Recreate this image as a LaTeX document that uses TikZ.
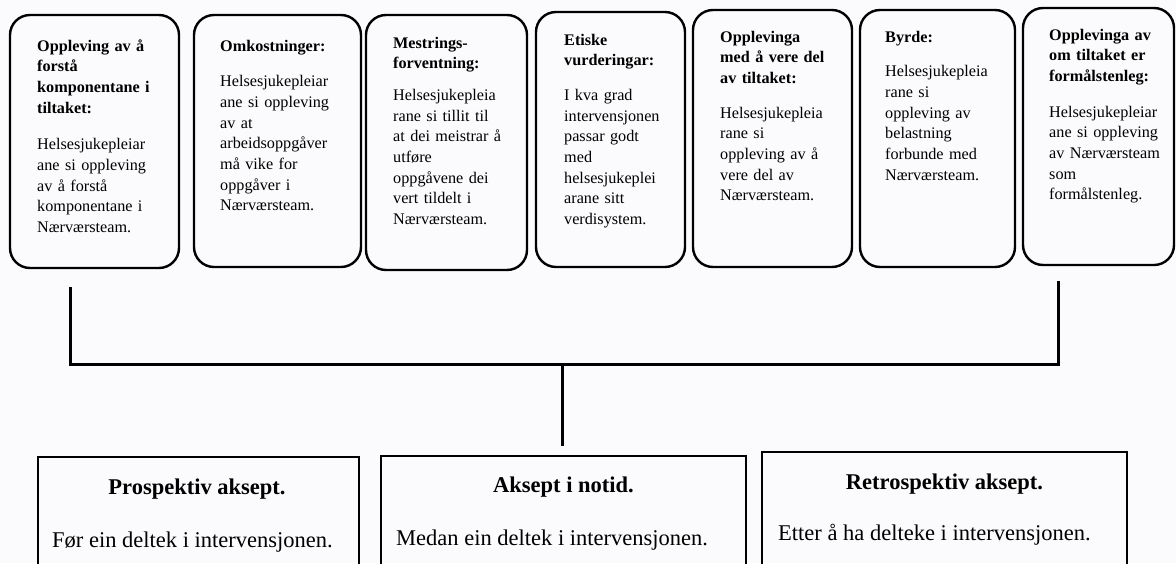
\documentclass[tikz,border=0pt]{standalone}
\usepackage{fontspec}
\setmainfont{Liberation Serif}
\begin{document}
\begin{tikzpicture}[x=1pt,y=-1pt,
  rbox/.style={draw, line width=2.4pt, rounded corners=20pt, inner sep=0pt},
  sbox/.style={draw, line width=1.4pt, inner sep=0pt},
  toptext/.style={anchor=base west, inner sep=0pt, text width=140pt, align=left,
    font=\fontsize{16.2}{20.7}\selectfont},
  bottitle/.style={anchor=base, inner sep=0pt, font=\fontsize{22.5}{27}\selectfont\bfseries},
  botbody/.style={anchor=base west, inner sep=0pt, font=\fontsize{22.5}{27}\selectfont},
  conn/.style={line width=3pt}]
\useasboundingbox (0,0) rectangle (1176,563);
\clip (0,0) rectangle (1176,563);
\fill[fill={rgb,255:red,251;green,251;blue,253}] (0,0) rectangle (1176,563);

% top rounded boxes
\node[rbox, minimum width=169pt, minimum height=253pt] (b1) at (94.5,141.5) {};
\node[rbox, minimum width=167pt, minimum height=252pt] (b2) at (277.5,141) {};
\node[rbox, minimum width=161pt, minimum height=255pt] (b3) at (446.5,142.5) {};
\node[rbox, minimum width=149pt, minimum height=255pt] (b4) at (610.5,139.5) {};
\node[rbox, minimum width=159pt, minimum height=257pt] (b5) at (772.5,138.5) {};
\node[rbox, minimum width=155pt, minimum height=257pt] (b6) at (937.5,138.5) {};
\node[rbox, minimum width=151pt, minimum height=257pt] (b7) at (1098.5,136.5) {};

% top texts
\node[toptext] (t1) at (37,51) {{\bfseries Oppleving av å\\forstå\\komponentane i\\tiltaket:}\\[16pt]
  Helsesjukepleiar\\ane si oppleving\\av å forstå\\komponentane i\\Nærværsteam.};
\node[toptext] (t2) at (220,51) {{\bfseries Omkostninger:}\\[15pt]
  Helsesjukepleiar\\ane si oppleving\\av at\\arbeidsoppgåver\\må vike for\\oppgåver i\\Nærværsteam.};
\node[toptext] (t3) at (393,48) {{\bfseries Mestrings-\\forventning:}\\[11pt]
  Helsesjukepleia\\rane si tillit til\\at dei meistrar å\\utføre\\oppgåvene dei\\vert tildelt i\\Nærværsteam.};
\node[toptext] (t4) at (564,45) {{\bfseries Etiske\\vurderingar:}\\[14pt]
  I kva grad\\intervensjonen\\passar godt\\med\\helsesjukeplei\\arane sitt\\verdisystem.};
\node[toptext] (t5) at (720,42) {{\bfseries Opplevinga\\med å vere del\\av tiltaket:}\\[14pt]
  Helsesjukepleia\\rane si\\oppleving av å\\vere del av\\Nærværsteam.};
\node[toptext] (t6) at (885,42) {{\bfseries Byrde:}\\[14pt]
  Helsesjukepleia\\rane si\\oppleving av\\belastning\\forbunde med\\Nærværsteam.};
\node[toptext] (t7) at (1049,40) {{\bfseries Opplevinga av\\om tiltaket er\\formålstenleg:}\\[15pt]
  Helsesjukepleiar\\ane si oppleving\\av Nærværsteam\\som\\formålstenleg.};

% bottom boxes
\node[sbox, minimum width=321pt, minimum height=150pt] (bA) at (198.5,532) {};
\node[sbox, minimum width=365pt, minimum height=150pt] (bB) at (563.5,531) {};
\node[sbox, minimum width=365pt, minimum height=150pt] (bC) at (944.5,527) {};

\node[bottitle] (hA) at (197,494) {Prospektiv aksept.};
\node[botbody] (pA) at (52,547) {Før ein deltek i intervensjonen.};
\node[bottitle] (hB) at (563.5,492) {Aksept i notid.};
\node[botbody] (pB) at (396,545) {Medan ein deltek i intervensjonen.};
\node[bottitle] (hC) at (944.5,489) {Retrospektiv aksept.};
\node[botbody] (pC) at (778,540.5) {Etter å ha delteke i intervensjonen.};

% connectors
\coordinate (cL) at (70,287);
\coordinate (cR) at (1058,281);
\coordinate (cJ) at (562,364);
\coordinate (cM) at (562,446);
\draw[conn] (cL) |- (cJ) -| (cR);
\draw[conn] (cJ) -- (cM);
\end{tikzpicture}
\end{document}
